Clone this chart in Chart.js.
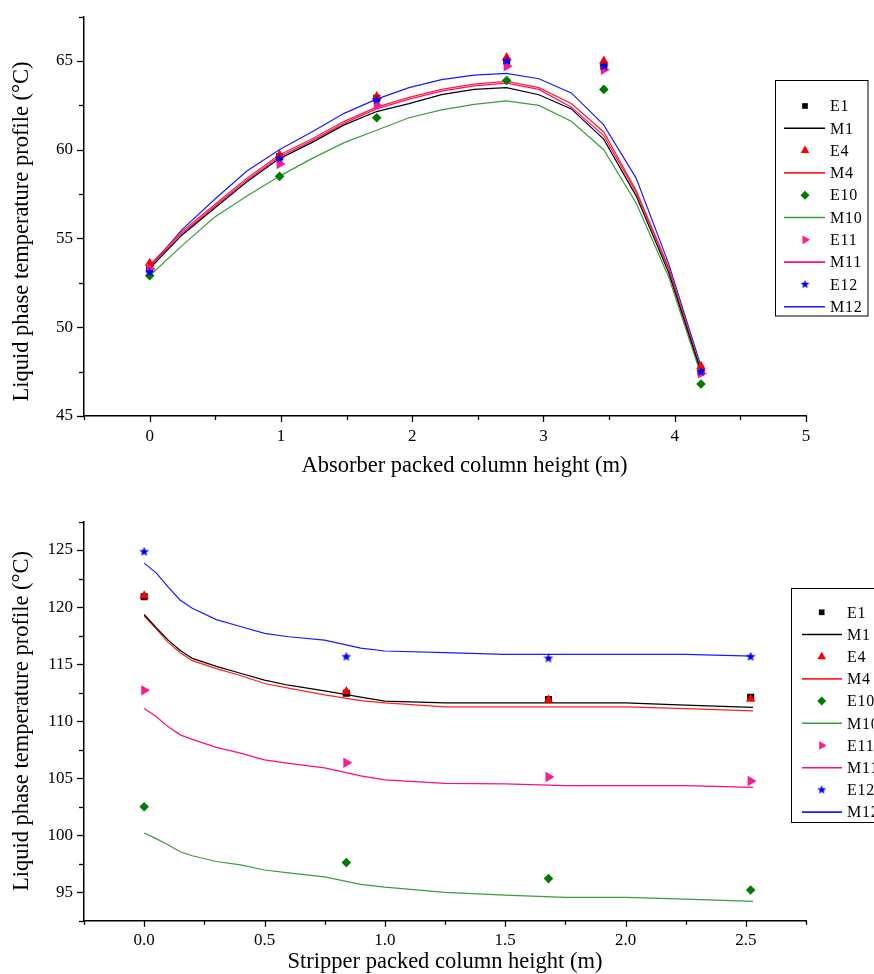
<!DOCTYPE html>
<html><head><meta charset="utf-8">
<script src="https://cdn.jsdelivr.net/npm/chart.js@4.4.1/dist/chart.umd.min.js"></script>
<style>
html,body{margin:0;padding:0;background:#fff;}
#wrap{position:relative;width:874px;height:974px;overflow:hidden;}
canvas{position:absolute;left:0;}
</style></head><body>
<div id="wrap">
<canvas id="c1" width="874" height="487" style="top:0"></canvas>
<canvas id="c2" width="874" height="487" style="top:487px"></canvas>
</div>
<script>
// ---------- Absorber (top panel) ----------
const absExpX = [0, 0.99, 1.73, 2.72, 3.46, 4.20];
const absE1  = [53.3, 59.6, 62.9, 65.0, 64.7, 47.5];
const absE4  = [53.6, 59.7, 63.0, 65.2, 65.0, 47.8];
const absE10 = [52.9, 58.5, 61.8, 63.9, 63.4, 46.8];
const absE11 = [53.3, 59.2, 62.5, 64.7, 64.5, 47.4];
const absE12 = [53.1, 59.5, 62.8, 65.0, 64.7, 47.5];

const absModelX = [0, 0.247, 0.494, 0.741, 0.988, 1.235, 1.482, 1.729, 1.976, 2.224, 2.471, 2.718, 2.965, 3.212, 3.459, 3.706, 3.953, 4.2];
const absM1  = [53.3, 55.2, 56.7, 58.2, 59.5, 60.4, 61.4, 62.15, 62.6, 63.1, 63.4, 63.5, 63.1, 62.3, 60.6, 57.4, 53.1, 47.5];
const absM4  = [53.5, 55.4, 56.9, 58.4, 59.7, 60.6, 61.6, 62.4, 62.95, 63.4, 63.7, 63.85, 63.5, 62.6, 61.0, 57.7, 53.4, 47.6];
const absM10 = [52.9, 54.6, 56.2, 57.4, 58.5, 59.5, 60.4, 61.1, 61.8, 62.25, 62.55, 62.75, 62.5, 61.6, 60.0, 57.0, 52.85, 47.3];
const absM11 = [53.4, 55.3, 56.8, 58.3, 59.6, 60.5, 61.5, 62.3, 62.85, 63.3, 63.6, 63.75, 63.4, 62.4, 60.8, 57.6, 53.3, 47.5];
const absM12 = [53.4, 55.5, 57.2, 58.8, 60.0, 61.0, 62.05, 62.85, 63.5, 63.95, 64.2, 64.3, 64.0, 63.2, 61.4, 58.4, 53.6, 47.8];

const absXTicks = [0, 1, 2, 3, 4, 5];
const absYTicks = [45, 50, 55, 60, 65];

// ---------- Stripper (bottom panel) ----------
const strExpX = [0, 0.84, 1.68, 2.52];
const strE1  = [120.9, 112.45, 111.9, 112.1];
const strE4  = [121.0, 112.6, 111.85, 111.95];
const strE10 = [102.5, 97.6, 96.2, 95.2];
const strE11 = [112.7, 106.35, 105.1, 104.75];
const strE12 = [124.85, 115.65, 115.5, 115.65];

const strModelX = [0, 0.05, 0.1, 0.15, 0.2, 0.3, 0.4, 0.5, 0.6, 0.75, 0.9, 1.0, 1.25, 1.5, 1.75, 2.0, 2.25, 2.53];
const strM1  = [119.35, 118.2, 117.1, 116.2, 115.5, 114.8, 114.2, 113.6, 113.15, 112.65, 112.1, 111.75, 111.6, 111.6, 111.6, 111.6, 111.4, 111.2];
const strM4  = [119.2, 118.1, 116.9, 116.0, 115.3, 114.6, 114.0, 113.3, 112.9, 112.3, 111.8, 111.6, 111.25, 111.25, 111.25, 111.25, 111.1, 110.9];
const strM10 = [100.2, 99.7, 99.15, 98.55, 98.2, 97.7, 97.4, 96.95, 96.7, 96.35, 95.7, 95.45, 95.0, 94.75, 94.55, 94.55, 94.4, 94.2];
const strM11 = [111.1, 110.4, 109.5, 108.8, 108.4, 107.7, 107.2, 106.6, 106.3, 105.9, 105.2, 104.85, 104.55, 104.5, 104.35, 104.35, 104.35, 104.2];
const strM12 = [123.85, 123.0, 121.75, 120.6, 119.9, 118.9, 118.3, 117.7, 117.4, 117.1, 116.4, 116.15, 116.0, 115.86, 115.86, 115.86, 115.86, 115.7];

const strXTicks = [0, 0.5, 1.0, 1.5, 2.0, 2.5];
const strYTicks = [95, 100, 105, 110, 115, 120, 125];

const seriesLabels = ['E1','M1','E4','M4','E10','M10','E11','M11','E12','M12'];
const yTitleText = 'Liquid phase temperature profile (\u00B0C)';
const absXTitle = 'Absorber packed column height (m)';
const strXTitle = 'Stripper packed column height (m)';

// ---------- helpers ----------
const FONT = "'Liberation Serif', 'Times New Roman', serif";
Chart.defaults.font.family = FONT;
Chart.defaults.color = '#000';

function pts(xs, ys){ return xs.map((x,i)=>({x:x, y:ys[i]})); }

function starImage(color, size){
  const c = document.createElement('canvas'); c.width = size; c.height = size;
  const g = c.getContext('2d'); const cx=size/2, cy=size/2, R=size/2, r=R*0.45;
  g.beginPath();
  for(let i=0;i<10;i++){ const a=-Math.PI/2 + i*Math.PI/5; const rad=(i%2)?r:R; g.lineTo(cx+rad*Math.cos(a), cy+rad*Math.sin(a)); }
  g.closePath(); g.fillStyle=color; g.fill(); return c;
}
const starBig = starImage('#0000ff', 10);
const starSmall = starImage('#0000ff', 9);

const COL = {E1:'#000000', M1:'#000000', E4:'#ff0000', M4:'#ff2020', E10:'#007a00', M10:'#3c9c3c', E11:'#ff1a8c', M11:'#ff0a80', E12:'#0000ff', M12:'#1a1aff'};

function expDs(label, xs, ys, style, radius, rot, order, legendStyle, legendRadius){
  return {label, data: pts(xs, ys), showLine:false, pointStyle: style, pointRadius: radius, pointRotation: rot||0,
    pointBackgroundColor: COL[label], pointBorderColor: COL[label], pointBorderWidth: 0, order,
    legendStyle: legendStyle || style, legendRadius};
}
function modDs(label, xs, ys){
  return {label, data: pts(xs, ys), showLine:true, pointRadius:0, borderColor: COL[label], borderWidth:1.2, fill:false, tension:0, order: 20};
}

const tickPlugin = {
  id:'axisTicks',
  afterDraw(chart, args, o){
    const ctx = chart.ctx, ca = chart.chartArea, xs = chart.scales.x, ys = chart.scales.y;
    ctx.save(); ctx.strokeStyle='#000'; ctx.lineWidth=1.3;
    const nx = Math.round((xs.max - xs.min)/o.xMinor);
    for(let i=0;i<=nx;i++){
      const v = xs.min + i*o.xMinor; const px = Math.round(xs.getPixelForValue(v))+0.5;
      const major = Math.abs(v/o.xMajor - Math.round(v/o.xMajor)) < 1e-6;
      ctx.beginPath(); ctx.moveTo(px, ca.bottom); ctx.lineTo(px, ca.bottom + (major?6:4)); ctx.stroke();
    }
    const ny = Math.round((ys.max - ys.min)/o.yMinor);
    for(let i=0;i<=ny;i++){
      const v = ys.min + i*o.yMinor; const py = Math.round(ys.getPixelForValue(v))+0.5;
      const major = Math.abs(v/o.yMajor - Math.round(v/o.yMajor)) < 1e-6;
      ctx.beginPath(); ctx.moveTo(ca.left, py); ctx.lineTo(ca.left - (major?7:5), py); ctx.stroke();
    }
    ctx.restore();
  }
};

const titlePlugin = {
  id:'axisTitles',
  afterDraw(chart, args, o){
    const ctx = chart.ctx; ctx.save();
    ctx.font = o.font; ctx.fillStyle = '#000'; ctx.textAlign = 'center'; ctx.textBaseline = 'middle';
    ctx.fillText(o.xText, o.xCx, o.xCy);
    ctx.translate(o.yCx, o.yCy); ctx.rotate(-Math.PI/2);
    ctx.fillText(o.yText, 0, 0);
    ctx.restore();
  }
};

const legendPlugin = {
  id:'boxLegend',
  afterDraw(chart, args, o){
    const ctx = chart.ctx; ctx.save();
    ctx.fillStyle='#fff'; ctx.fillRect(o.left, o.top, o.width, o.height);
    ctx.strokeStyle='#000'; ctx.lineWidth=1; ctx.strokeRect(o.left, o.top, o.width, o.height);
    ctx.font = o.font; ctx.textBaseline='middle';
    try { ctx.letterSpacing = '0.8px'; } catch(e) {}
    chart.data.datasets.forEach((ds,i)=>{
      const y = o.firstY + i*o.rowH;
      if(ds.showLine === false){
        ctx.fillStyle = ds.pointBackgroundColor; ctx.strokeStyle = ds.pointBorderColor;
        Chart.helpers.drawPoint(ctx, {pointStyle: ds.legendStyle, radius: ds.legendRadius, rotation: ds.pointRotation, borderWidth:0}, o.symX, y);
      } else {
        ctx.strokeStyle = ds.borderColor; ctx.lineWidth = 1.6;
        ctx.beginPath(); ctx.moveTo(o.lineX1, y); ctx.lineTo(o.lineX2, y); ctx.stroke();
      }
      ctx.fillStyle='#000'; ctx.fillText(ds.label, o.textX, y+1);
    });
    ctx.restore();
  }
};

function makeChart(id, cfg){
  const sets = cfg.sets;
  const chart = new Chart(document.getElementById(id), {
    type:'scatter',
    data:{datasets:[
      expDs(seriesLabels[0], cfg.ex, sets.E1, 'rect', 5, 0, 5, 'rect', 4),
      modDs(seriesLabels[1], cfg.mx, sets.M1),
      expDs(seriesLabels[2], cfg.ex, sets.E4, 'triangle', 5.5, 0, 4, 'triangle', 5),
      modDs(seriesLabels[3], cfg.mx, sets.M4),
      expDs(seriesLabels[4], cfg.ex, sets.E10, 'rectRot', 4.8, 0, 3, 'rectRot', 4.5),
      modDs(seriesLabels[5], cfg.mx, sets.M10),
      expDs(seriesLabels[6], cfg.ex, sets.E11, 'triangle', 6, 90, 2, 'triangle', 5),
      modDs(seriesLabels[7], cfg.mx, sets.M11),
      expDs(seriesLabels[8], cfg.ex, sets.E12, starBig, 5, 0, 1, starSmall, 4),
      modDs(seriesLabels[9], cfg.mx, sets.M12)
    ]},
    options:{
      animation:false, responsive:false, devicePixelRatio:1, events:[],
      layout:{padding:{top:cfg.padTop, right:68, left:0, bottom:0}},
      plugins:{legend:{display:false}, tooltip:{enabled:false}, boxLegend: cfg.legend, axisTitles: cfg.titles,
        axisTicks:{xMinor:cfg.xMinor, xMajor:cfg.xMajor, yMinor:2.5, yMajor:5}},
      scales:{
        x:{type:'linear', min:cfg.xMin, max:cfg.xMax,
          grid:{display:false, drawTicks:false}, border:{display:true, color:'#000', width:1.5},
          ticks:{color:'#000', font:{size:17}, padding:cfg.xTickPad, maxRotation:0, autoSkip:false, callback:cfg.xFmt},
          title:{display:false},
          afterBuildTicks:(s)=>{ s.ticks = cfg.xTicks.map(v=>({value:v})); },
          afterFit:(s)=>{ s.height = cfg.xH; s.paddingLeft = 0; s.paddingRight = 0; }
        },
        y:{type:'linear', min:cfg.yMin, max:cfg.yMax,
          grid:{display:false, drawTicks:false}, border:{display:true, color:'#000', width:1.5},
          ticks:{color:'#000', font:{size:17}, padding:11, autoSkip:false, callback:(v)=>String(v)},
          title:{display:false},
          afterBuildTicks:(s)=>{ s.ticks = cfg.yTicks.map(v=>({value:v})); },
          afterFit:(s)=>{ s.width = 84; s.paddingTop = 0; s.paddingBottom = 0; }
        }
      }
    },
    plugins:[tickPlugin, legendPlugin, titlePlugin]
  });
  // nudge layout so the plot area lands on the target edges
  for(let k=0;k<3;k++){
    const ca = chart.chartArea;
    const dt = cfg.areaTop - ca.top, db = cfg.areaBottom - ca.bottom;
    if(Math.abs(dt) < 0.1 && Math.abs(db) < 0.1) break;
    chart.options.layout.padding.top += dt;
    cfg.xH -= db;
    chart.update();
  }
  return chart;
}

const TITLE_FONT = "22.5px " + FONT;

makeChart('c1', {
  ex: absExpX, mx: absModelX,
  sets:{E1:absE1, M1:absM1, E4:absE4, M4:absM4, E10:absE10, M10:absM10, E11:absE11, M11:absM11, E12:absE12, M12:absM12},
  xMin:-0.5, xMax:5, yMin:45, yMax:67.5, xMinor:0.5, xMajor:1, xTicks:absXTicks, yTicks:absYTicks,
  xFmt:(v)=>String(v), xTickPad:10, xH:71, padTop:16.6, areaTop:16.6, areaBottom:416,
  titles:{font:TITLE_FONT, xText:absXTitle, xCx:464.5, xCy:466, yText:yTitleText, yCx:22, yCy:231.5},
  legend:{left:775.5, top:80.5, width:92.5, height:235.5, firstY:106, rowH:22.3, symX:805, lineX1:784, lineX2:825, textX:830, font:"16px " + FONT}
});

makeChart('c2', {
  ex: strExpX, mx: strModelX,
  sets:{E1:strE1, M1:strM1, E4:strE4, M4:strM4, E10:strE10, M10:strM10, E11:strE11, M11:strM11, E12:strE12, M12:strM12},
  xMin:-0.25, xMax:2.75, yMin:92.5, yMax:127.5, xMinor:0.25, xMajor:0.5, xTicks:strXTicks, yTicks:strYTicks,
  xFmt:(v)=>Number(v).toFixed(1), xTickPad:10, xH:53.2, padTop:34.5, areaTop:34.5, areaBottom:433.8,
  titles:{font:TITLE_FONT, xText:strXTitle, xCx:445, xCy:475, yText:yTitleText, yCx:22, yCy:234},
  legend:{left:791.5, top:101.5, width:120, height:234, firstY:125.3, rowH:22.2, symX:821.7, lineX1:802, lineX2:842, textX:847, font:"16px " + FONT}
});
</script>
</body></html>
